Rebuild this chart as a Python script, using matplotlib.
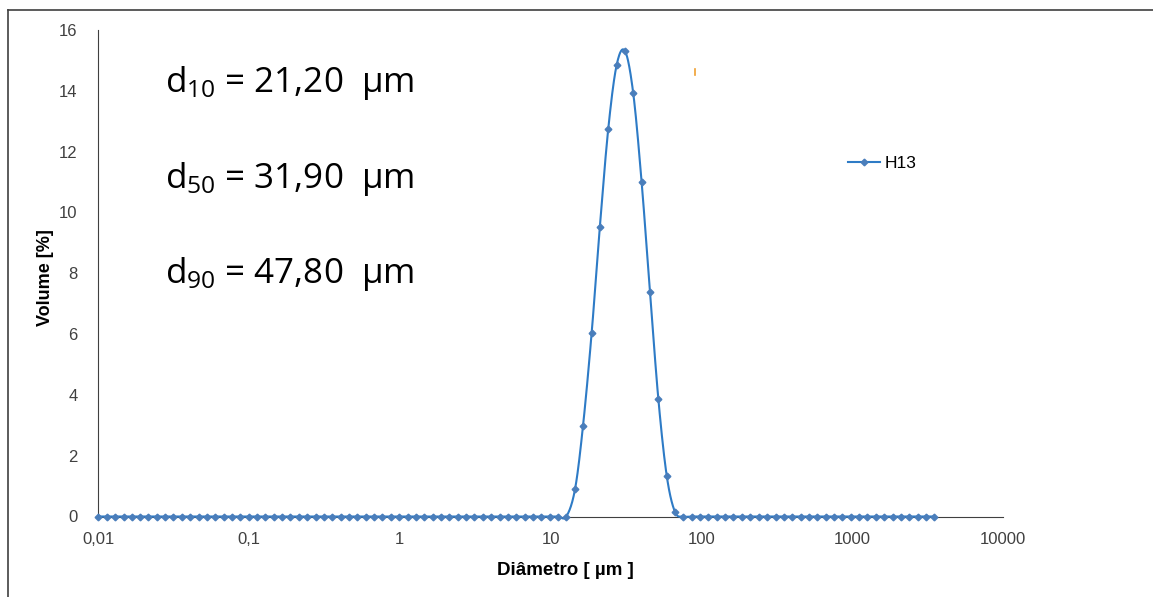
import matplotlib
matplotlib.use('Agg')
import matplotlib.pyplot as plt
from matplotlib.lines import Line2D
from matplotlib.ticker import FixedLocator, FixedFormatter
import numpy as np

# classes de tamanho (µm) e volume (%)
diametro = [0.0100, 0.0114, 0.0129, 0.0147, 0.0167, 0.0189, 0.0215, 0.0244, 0.0278, 0.0315,
            0.0358, 0.0407, 0.0463, 0.0526, 0.0597, 0.0679, 0.0771, 0.0876, 0.0995, 0.113,
            0.128, 0.146, 0.166, 0.188, 0.214, 0.243, 0.276, 0.314, 0.357, 0.405,
            0.460, 0.523, 0.594, 0.675, 0.767, 0.872, 0.991, 1.13, 1.28, 1.45,
            1.65, 1.88, 2.13, 2.42, 2.75, 3.12, 3.55, 4.03, 4.58, 5.21,
            5.92, 6.72, 7.64, 8.68, 9.86, 11.2, 12.7, 14.5, 16.4, 18.7,
            21.2, 24.1, 27.4, 31.1, 35.3, 40.1, 45.6, 51.8, 58.9, 66.9,
            76.0, 86.4, 98.1, 111, 127, 144, 163, 186, 211, 240,
            272, 310, 352, 400, 454, 516, 586, 666, 756, 859,
            976, 1110, 1260, 1430, 1630, 1850, 2100, 2390, 2710, 3080,
            3500]
volume = [0, 0, 0, 0, 0, 0, 0, 0, 0, 0,
          0, 0, 0, 0, 0, 0, 0, 0, 0, 0,
          0, 0, 0, 0, 0, 0, 0, 0, 0, 0,
          0, 0, 0, 0, 0, 0, 0, 0, 0, 0,
          0, 0, 0, 0, 0, 0, 0, 0, 0, 0,
          0, 0, 0, 0, 0, 0, 0, 0.89, 2.99, 6.03,
          9.53, 12.75, 14.85, 15.31, 13.92, 11.01, 7.38, 3.86, 1.33, 0.14,
          0, 0, 0, 0, 0, 0, 0, 0, 0, 0,
          0, 0, 0, 0, 0, 0, 0, 0, 0, 0,
          0, 0, 0, 0, 0, 0, 0, 0, 0, 0,
          0]
serie = 'H13'

x_ticks = [0.01, 0.1, 1, 10, 100, 1000, 10000]
x_labels = ['0,01', '0,1', '1', '10', '100', '1000', '10000']
y_ticks = [0, 2, 4, 6, 8, 10, 12, 14, 16]

anotacoes = [('10', '21,20'), ('50', '31,90'), ('90', '47,80')]

plt.rcParams['font.family'] = ['Liberation Sans', 'DejaVu Sans']

# curva suavizada (tipo Excel: Catmull-Rom em log x)
lx = np.log10(diametro)
vy = np.array(volume, dtype=float)
px = np.concatenate([[lx[0]], lx, [lx[-1]]])
py = np.concatenate([[vy[0]], vy, [vy[-1]]])
t = np.linspace(0, 1, 20)[:-1]
sx, sy = [], []
for i in range(1, len(px) - 2):
    p0x, p1x, p2x, p3x = px[i-1], px[i], px[i+1], px[i+2]
    p0y, p1y, p2y, p3y = py[i-1], py[i], py[i+1], py[i+2]
    c1x, c1y = p1x + (p2x - p0x) / 6, p1y + (p2y - p0y) / 6
    c2x, c2y = p2x - (p3x - p1x) / 6, p2y - (p3y - p1y) / 6
    b0, b1, b2, b3 = (1-t)**3, 3*(1-t)**2*t, 3*(1-t)*t**2, t**3
    sx.extend(b0*p1x + b1*c1x + b2*c2x + b3*p2x)
    sy.extend(b0*p1y + b1*c1y + b2*c2y + b3*p2y)
sx.append(lx[-1])
sy.append(vy[-1])

fig = plt.figure(figsize=(11.53, 5.97), dpi=100)
ax = fig.add_axes([98.3/1153, 80.5/597, (1003-98.3)/1153, 486.5/597])

ax.plot(10**np.array(sx), sy, color='#2E7BC6', linewidth=1.5, clip_on=False, zorder=3)
ax.plot(diametro, volume, linestyle='none', marker='D', markersize=3.4,
        color='#4A7EBB', clip_on=False, zorder=4)

ax.set_xscale('log')
ax.set_xlim(0.01, 10000)
ax.set_ylim(0, 16)
ax.xaxis.set_major_locator(FixedLocator(x_ticks))
ax.xaxis.set_major_formatter(FixedFormatter(x_labels))
ax.xaxis.set_minor_locator(FixedLocator([]))
ax.set_yticks(y_ticks)
ax.tick_params(axis='both', length=0, labelsize=12, colors='#404040')
ax.tick_params(axis='x', pad=11)
ax.tick_params(axis='y', pad=15)
for s in ['top', 'right']:
    ax.spines[s].set_visible(False)
ax.spines['left'].set_color('#404040')
ax.spines['bottom'].set_color('#404040')

ax.set_xlabel('Diâmetro [ µm ]', fontsize=13.5, fontweight='bold')
ax.set_ylabel('Volume [%]', fontsize=13, fontweight='bold')
ax.xaxis.set_label_coords((565-98.3)/904.7, (516.5-562)/486.5)
ax.yaxis.set_label_coords((54-98.3)/904.7, (516.5-278)/486.5)

# legenda
leg_handle = Line2D([], [], color='#2E7BC6', linewidth=1.5, marker='D',
                    markersize=3.4, markerfacecolor='#4A7EBB', markeredgecolor='#4A7EBB')
ax.legend([leg_handle], [serie], loc='center left', frameon=False, fontsize=12.5,
          bbox_to_anchor=((848-98.3)/904.7, (516.5-163)/486.5),
          borderaxespad=0, borderpad=0, handlelength=1.85, handletextpad=0.25)

# d10, d50, d90
for i, (d, val) in enumerate(anotacoes):
    yb = 92 + i * 95.5
    fig.text(165/1153, 1 - yb/597, r'$\mathregular{d_{%s}}$ = %s  µm' % (d, val),
             fontsize=25.2, family=['Open Sans', 'DejaVu Sans'], va='baseline', ha='left')

# moldura (cortada) e marca laranja
fig.add_artist(Line2D([8/1153, 1], [1 - 10/597, 1 - 10/597], color='#404040', linewidth=1.2))
fig.add_artist(Line2D([8/1153, 8/1153], [0, 1 - 10/597], color='#404040', linewidth=1.2))
fig.add_artist(Line2D([695/1153, 695/1153], [1 - 69/597, 1 - 75/597], color='#F0A030', linewidth=1.2))

plt.savefig('out.png', dpi=100)
